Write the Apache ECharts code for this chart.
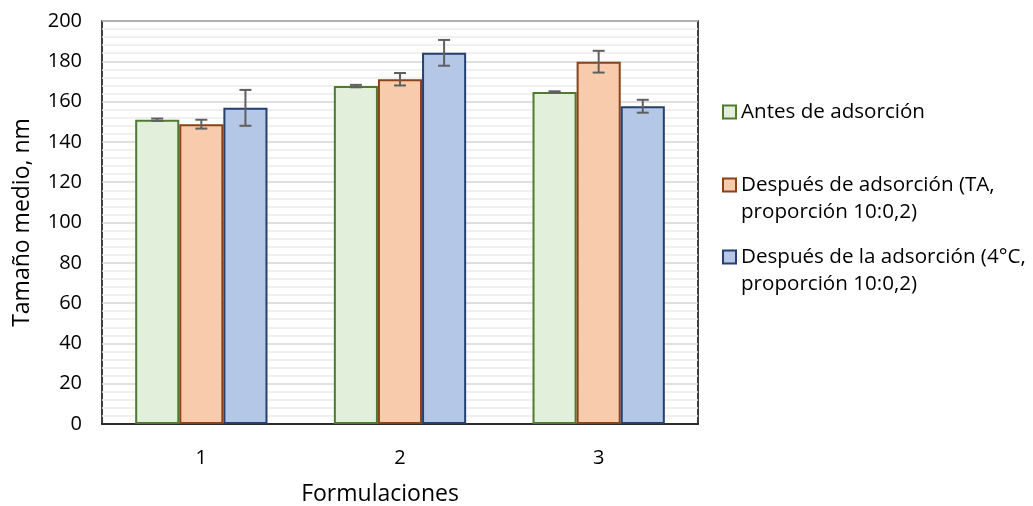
<!DOCTYPE html>
<html>
<head>
<meta charset="utf-8">
<title>Tamaño medio</title>
<script src="https://cdn.jsdelivr.net/npm/echarts@6/dist/echarts.min.js"></script>
</head>
<body style="margin:0;background:#fff;">
<div id="main" style="width:1033px;height:506px;"></div>
<script>
var categories = ['1', '2', '3'];
var seriesNames = [
    'Antes de adsorción',
    'Después de adsorción (TA,\nproporción 10:0,2)',
    'Después de la adsorción (4°C,\nproporción 10:0,2)'
];
// medias y desviaciones
var antes = [151.0, 167.7, 164.8];
var antesErr = [0.6, 0.6, 0.3];
var despuesTA = [148.8, 171.1, 179.8];
var despuesTAErr = [2.2, 3.1, 5.4];
var despues4C = [156.9, 184.2, 157.7];
var despues4CErr = [8.9, 6.4, 3.2];

var values = [antes, despuesTA, despues4C];
var errors = [antesErr, despuesTAErr, despues4CErr];
var fills = ['#E2EFDA', '#F8CBAD', '#B4C7E7'];
var borders = ['#4F7A30', '#8A4216', '#253F6E'];

var font = "'Open Sans', sans-serif";
var BAR_W = 0.222;
var LH = 27;

var chart = echarts.init(document.getElementById('main'));

function errorBars(offset) {
    return function (params, api) {
        var idx = api.value(0);
        var mid = api.value(1);
        var err = api.value(2);
        var bw = api.size([1, 0])[0] * BAR_W;
        var x = api.coord([idx, mid])[0] + offset * bw;
        var top = api.coord([idx, mid + err])[1];
        var bot = api.coord([idx, mid - err])[1];
        var cap = 6;
        var st = { stroke: '#5f5f5f', lineWidth: 2 };
        return {
            type: 'group',
            children: [
                { type: 'line', shape: { x1: x, y1: top, x2: x, y2: bot }, style: st },
                { type: 'line', shape: { x1: x - cap, y1: top, x2: x + cap, y2: top }, style: st },
                { type: 'line', shape: { x1: x - cap, y1: bot, x2: x + cap, y2: bot }, style: st }
            ]
        };
    };
}

var series = [];
for (var i = 0; i < 3; i++) {
    series.push({
        name: seriesNames[i],
        type: 'bar',
        data: values[i],
        barWidth: (BAR_W * 100) + '%',
        barGap: '0%',
        itemStyle: { color: fills[i], borderColor: borders[i], borderWidth: 2 }
    });
}
for (var i = 0; i < 3; i++) {
    var d = [];
    for (var j = 0; j < categories.length; j++) {
        d.push([j, values[i][j], errors[i][j]]);
    }
    series.push({
        type: 'custom',
        renderItem: errorBars(i - 1),
        data: d,
        encode: { x: 0, y: 1 },
        z: 10,
        silent: true
    });
}

// centro vertical del icono de cada entrada
var legendCenters = [112, 185, 257];
var legends = [];
for (var i = 0; i < 3; i++) {
    var multi = seriesNames[i].indexOf('\n') >= 0;
    legends.push({
        data: [seriesNames[i]],
        orient: 'vertical',
        left: 722,
        top: multi ? legendCenters[i] - 1.5 * LH : legendCenters[i] - LH / 2,
        padding: 0,
        icon: 'rect',
        itemWidth: 13,
        itemHeight: 13,
        itemGap: 0,
        itemStyle: { borderWidth: 2 },
        // una línea vacía delante deja la primera línea a la altura del icono
        formatter: multi ? function (name) { return '\u00a0\n' + name; } : '{name}',
        textStyle: {
            fontFamily: font,
            fontSize: 20.6,
            color: '#000',
            lineHeight: LH
        }
    });
}

var option = {
    animation: false,
    textStyle: { fontFamily: font },
    grid: {
        left: 102, right: 335, top: 21, bottom: 82,
        outerBoundsMode: 'none',
        show: true, borderColor: '#000', borderWidth: 1.5
    },
    legend: legends,
    xAxis: {
        type: 'category',
        data: categories,
        name: 'Formulaciones',
        nameLocation: 'middle',
        nameGap: 59,
        nameTextStyle: { fontFamily: font, fontSize: 23, color: '#000', padding: [0, 40, 0, 0] },
        axisLine: { lineStyle: { color: '#000', width: 1.5 } },
        axisTick: { show: false },
        axisLabel: { fontFamily: font, fontSize: 20, color: '#000', margin: 24 }
    },
    yAxis: {
        type: 'value',
        min: 0, max: 200, interval: 20,
        name: 'Tamaño medio, nm',
        nameLocation: 'middle',
        nameGap: 68,
        nameTextStyle: { fontFamily: font, fontSize: 23, color: '#000' },
        axisLine: { show: false },
        axisTick: { show: false },
        axisLabel: { fontFamily: font, fontSize: 20, color: '#000', margin: 20 },
        splitLine: { lineStyle: { color: '#d6d6d6', width: 1.5 } },
        minorTick: { show: false, splitNumber: 5 },
        minorSplitLine: { show: true, lineStyle: { color: '#ececec', width: 1.5 } }
    },
    series: series
};
chart.setOption(option);
</script>
</body>
</html>
